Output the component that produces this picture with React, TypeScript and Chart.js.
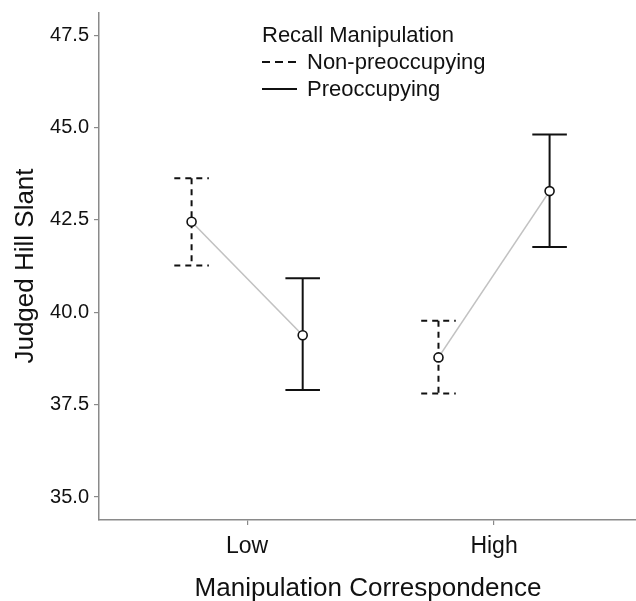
import React, { useEffect, useRef } from "react";
import { Chart, registerables } from "chart.js";

Chart.register(...registerables);

const categories = ["Low", "High"];
const seriesNames = ["Non-preoccupying", "Preoccupying"];
const nonPreMean = [42.45, 38.78];
const nonPreLow = [41.27, 37.8];
const nonPreHigh = [43.63, 39.77];
const preMean = [39.38, 43.28];
const preLow = [37.9, 41.77];
const preHigh = [40.92, 44.81];
const yTicks = [35, 37.5, 40, 42.5, 45, 47.5];

const FONT = '"Liberation Sans", Arial, Helvetica, sans-serif';
const DODGE = 0.225;
const CAP = 0.07;

export default function App() {
  const ref = useRef<HTMLCanvasElement | null>(null);

  useEffect(() => {
    document.body.style.margin = "0";
    const canvas = ref.current;
    if (!canvas) return;

    const datasets = categories.map((c, i) => ({
      label: c,
      data: [
        { x: i + 1 - DODGE, y: nonPreMean[i] },
        { x: i + 1 + DODGE, y: preMean[i] },
      ],
      borderColor: "#c2c2c2",
      borderWidth: 1.6,
      pointRadius: 4.5,
      pointBackgroundColor: "#ffffff",
      pointBorderColor: "#111111",
      pointBorderWidth: 1.6,
      showLine: true,
      fill: false,
    }));

    const errorBars = {
      id: "errorBars",
      beforeDatasetsDraw(chart: any) {
        const ctx = chart.ctx;
        const xs = chart.scales.x;
        const ys = chart.scales.y;
        const groups = [
          { lo: nonPreLow, hi: nonPreHigh, off: -DODGE, dash: [6, 5] },
          { lo: preLow, hi: preHigh, off: DODGE, dash: [] as number[] },
        ];
        ctx.save();
        ctx.strokeStyle = "#111111";
        ctx.lineWidth = 2;
        ctx.lineCap = "butt";
        groups.forEach((g) => {
          categories.forEach((_, i) => {
            const xv = i + 1 + g.off;
            const x = xs.getPixelForValue(xv);
            const xl = xs.getPixelForValue(xv - CAP);
            const xr = xs.getPixelForValue(xv + CAP);
            const yt = ys.getPixelForValue(g.hi[i]);
            const yb = ys.getPixelForValue(g.lo[i]);
            ctx.setLineDash(g.dash);
            ctx.beginPath();
            ctx.moveTo(x, yt);
            ctx.lineTo(x, yb);
            ctx.stroke();
            ctx.beginPath();
            ctx.moveTo(xl, yt);
            ctx.lineTo(xr, yt);
            ctx.stroke();
            ctx.beginPath();
            ctx.moveTo(xl, yb);
            ctx.lineTo(xr, yb);
            ctx.stroke();
          });
        });
        ctx.restore();
      },
    };

    const annotations = {
      id: "annotations",
      afterDraw(chart: any) {
        const ctx = chart.ctx;
        ctx.save();
        ctx.fillStyle = "#111111";
        ctx.font = `26px ${FONT}`;
        ctx.textAlign = "center";
        ctx.textBaseline = "alphabetic";
        ctx.fillText("Manipulation Correspondence", 368, 596);
        ctx.save();
        ctx.translate(33, 266);
        ctx.rotate(-Math.PI / 2);
        ctx.fillText("Judged Hill Slant", 0, 0);
        ctx.restore();
        ctx.textAlign = "left";
        ctx.font = `22px ${FONT}`;
        ctx.fillText("Recall Manipulation", 262, 42);
        const entries = [
          { name: seriesNames[0], y: 62, dash: [8, 5] },
          { name: seriesNames[1], y: 89, dash: [] as number[] },
        ];
        ctx.strokeStyle = "#111111";
        ctx.lineWidth = 2;
        entries.forEach((e) => {
          ctx.setLineDash(e.dash);
          ctx.beginPath();
          ctx.moveTo(262, e.y);
          ctx.lineTo(297, e.y);
          ctx.stroke();
          ctx.textBaseline = "middle";
          ctx.fillText(e.name, 307, e.y + 1);
        });
        ctx.restore();
      },
    };

    const chart = new Chart(canvas, {
      type: "line",
      data: { datasets },
      options: {
        responsive: false,
        animation: false,
        layout: { autoPadding: false, padding: { top: 13, right: 0, left: 0, bottom: 0 } },
        plugins: { legend: { display: false }, tooltip: { enabled: false } },
        scales: {
          x: {
            type: "linear",
            min: 0.4,
            max: 2.575,
            afterBuildTicks: (scale: any) => {
              scale.ticks = categories.map((_, i) => ({ value: i + 1 }));
            },
            afterFit: (scale: any) => {
              scale.height = 81;
              scale.paddingRight = 0;
              scale.paddingLeft = 0;
            },
            ticks: {
              callback: (v: any) => categories[Math.round(Number(v)) - 1] ?? "",
              color: "#111111",
              font: { family: FONT, size: 23 },
              padding: 8,
              maxRotation: 0,
              autoSkip: false,
            },
            grid: {
              drawOnChartArea: false,
              drawTicks: true,
              tickLength: 5,
              color: "#8a8a8a",
              lineWidth: 1.2,
            },
            border: { display: true, color: "#8a8a8a", width: 1.5 },
          },
          y: {
            type: "linear",
            min: 34.38,
            max: 48.1,
            afterBuildTicks: (scale: any) => {
              scale.ticks = yTicks.map((v) => ({ value: v }));
            },
            afterFit: (scale: any) => {
              scale.width = 99;
              scale.paddingTop = 0;
              scale.paddingBottom = 0;
            },
            ticks: {
              callback: (v: any) => Number(v).toFixed(1),
              color: "#111111",
              font: { family: FONT, size: 20 },
              padding: 5,
              autoSkip: false,
            },
            grid: {
              drawOnChartArea: false,
              drawTicks: true,
              tickLength: 5,
              color: "#8a8a8a",
              lineWidth: 1.2,
            },
            border: { display: true, color: "#8a8a8a", width: 1.5 },
          },
        },
      },
      plugins: [errorBars, annotations],
    } as any);

    return () => chart.destroy();
  }, []);

  return (
    <div style={{ width: 636, height: 601, background: "#ffffff" }}>
      <canvas ref={ref} width={636} height={601} style={{ display: "block" }} />
    </div>
  );
}
